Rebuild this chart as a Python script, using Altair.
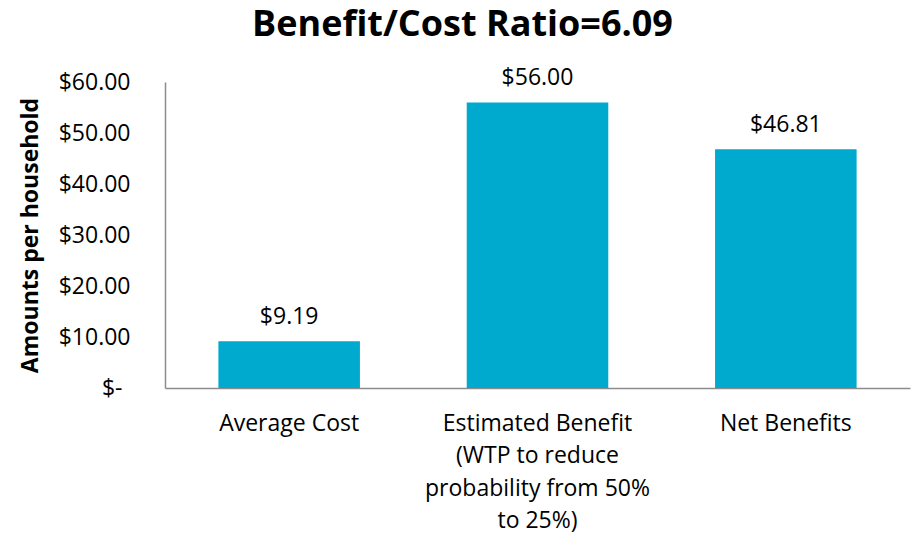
import altair as alt
import pandas as pd

# Per-household amounts for each category
categories = [
    "Average Cost",
    "Estimated Benefit (WTP to reduce probability from 50% to 25%)",
    "Net Benefits",
]
category_lines = [
    ["Average Cost"],
    ["Estimated Benefit", "(WTP to reduce", "probability from 50%", "to 25%)"],
    ["Net Benefits"],
]
amounts = [9.19, 56.00, 46.81]
value_labels = ["$9.19", "$56.00", "$46.81"]
y_ticks = [0, 10, 20, 30, 40, 50, 60]

df = pd.DataFrame({
    "category": categories,
    "amount": amounts,
    "label": value_labels,
})

# Multi-line axis labels keyed by category
label_map = {c: l for c, l in zip(categories, category_lines)}
label_expr = " : ".join(
    [f"datum.value == {repr(c)} ? {l!r}" for c, l in label_map.items()]
) + " : datum.value"

FONT = "Open Sans"
BAR = "#00AACE"
AXIS_GREY = "#8C8C8C"

x = alt.X(
    "category:N",
    sort=categories,
    title=None,
    scale=alt.Scale(paddingInner=0.43, paddingOuter=0.215),
    axis=alt.Axis(
        labelAngle=0,
        labelExpr=label_expr,
        labelFont=FONT,
        labelFontSize=23,
        labelColor="#000000",
        labelLineHeight=32.5,
        labelPadding=24,
        labelLimit=400,
        ticks=False,
        domainColor=AXIS_GREY,
        domainWidth=1.5,
    ),
)

y = alt.Y(
    "amount:Q",
    title="Amounts per household",
    scale=alt.Scale(domain=[0, 60], nice=False),
    axis=alt.Axis(
        values=y_ticks,
        labelExpr="datum.value == 0 ? '$-' : '$' + format(datum.value, '.2f')",
        labelFont=FONT,
        labelFontSize=23,
        labelColor="#000000",
        labelPadding={"condition": {"test": "datum.value == 0", "value": 43}, "value": 35},
        ticks=False,
        grid=False,
        domainColor=AXIS_GREY,
        domainWidth=1.5,
        titleFont=FONT,
        titleFontSize=23,
        titleFontWeight="bold",
        titleColor="#000000",
        titlePadding=16,
    ),
)

base = alt.Chart(df).encode(x=x, y=y)

bars = base.mark_bar(color=BAR)

text = base.mark_text(
    font=FONT,
    fontSize=23,
    color="#000000",
    baseline="alphabetic",
    dy=-17,
).encode(text="label:N")

chart = (
    (bars + text)
    .properties(
        width=745,
        height=306,
        padding={"left": 165, "top": 82, "right": 3, "bottom": 146},
        autosize=alt.AutoSizeParams(type="none"),
        background="white",
        title=alt.TitleParams(
            "Benefit/Cost Ratio=6.09",
            font=FONT,
            fontSize=36,
            fontWeight="bold",
            color="#000000",
            anchor="middle",
            dx=-75,
            dy=5,
            offset=0,
            baseline="alphabetic",
        ),
    )
    .configure_view(stroke="transparent", strokeWidth=0)
)

chart.save("out.html", embed_options={"renderer": "svg", "actions": False})
